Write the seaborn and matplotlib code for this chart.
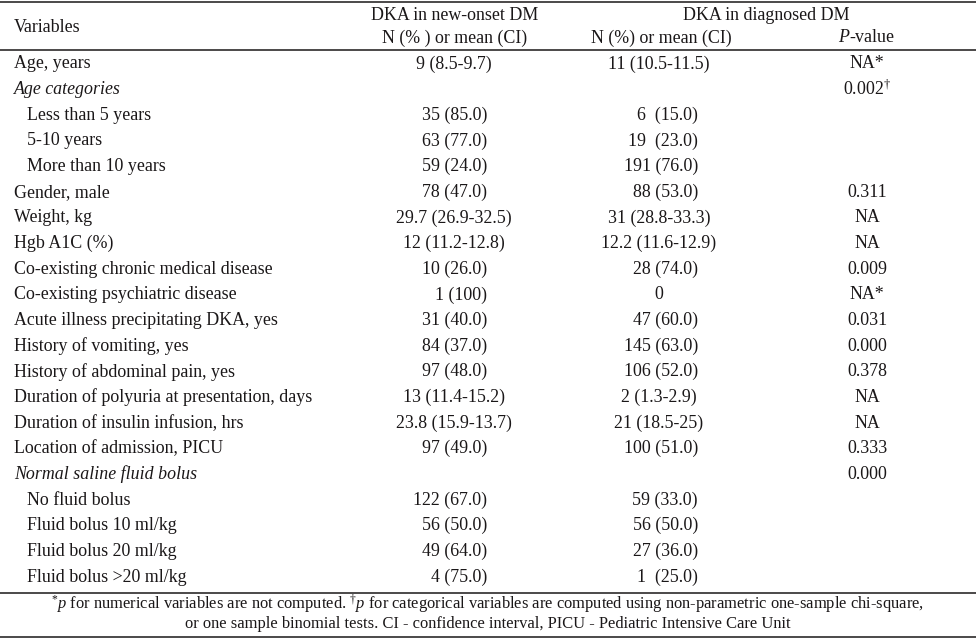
import matplotlib
matplotlib.use("Agg")
import matplotlib.pyplot as plt
import seaborn as sns
import pandas as pd

# ---------------- data ----------------
variables = [
    "Age, years", "Age categories", "Less than 5 years", "5-10 years",
    "More than 10 years", "Gender, male", "Weight, kg", "Hgb A1C (%)",
    "Co-existing chronic medical disease", "Co-existing psychiatric disease",
    "Acute illness precipitating DKA, yes", "History of vomiting, yes",
    "History of abdominal pain, yes", "Duration of polyuria at presentation, days",
    "Duration of insulin infusion, hrs", "Location of admission, PICU",
    "Normal saline fluid bolus", "No fluid bolus", "Fluid bolus 10 ml/kg",
    "Fluid bolus 20 ml/kg", "Fluid bolus >20 ml/kg",
]
new_onset = [
    "9 (8.5-9.7)", "", "35 (85.0)", "63 (77.0)", "59 (24.0)", "78 (47.0)",
    "29.7 (26.9-32.5)", "12 (11.2-12.8)", "10 (26.0)", "1 (100)", "31 (40.0)",
    "84 (37.0)", "97 (48.0)", "13 (11.4-15.2)", "23.8 (15.9-13.7)", "97 (49.0)",
    "", "122 (67.0)", "56 (50.0)", "49 (64.0)", "4 (75.0)",
]
diagnosed = [
    "11 (10.5-11.5)", "", "6  (15.0)", "19  (23.0)", "191 (76.0)", "88 (53.0)",
    "31 (28.8-33.3)", "12.2 (11.6-12.9)", "28 (74.0)", "0", "47 (60.0)",
    "145 (63.0)", "106 (52.0)", "2 (1.3-2.9)", "21 (18.5-25)", "100 (51.0)",
    "", "59 (33.0)", "56 (50.0)", "27 (36.0)", "1  (25.0)",
]
p_values = [
    "NA*", "0.002$^{†}$", "", "", "", "0.311", "NA", "NA", "0.009", "NA*",
    "0.031", "0.000", "0.378", "NA", "NA", "0.333", "0.000", "", "", "", "",
]
header_top = ["DKA in new-onset DM", "DKA in diagnosed DM"]
header_sub = ["Variables", "N (% ) or mean (CI)", "N (%) or mean (CI)", "$\\mathit{P}$-value"]
footnote = [
    "$^{*}\\mathit{p}$ for numerical variables are not computed. $^{†}\\mathit{p}$ for categorical "
    "variables are computed using non-parametric one-sample chi-square,",
    "or one sample binomial tests. CI - confidence interval, PICU - Pediatric Intensive Care Unit",
]

# style flags (not data)
italic_rows = {"Age categories", "Normal saline fluid bolus"}
sub_rows = {"Less than 5 years", "5-10 years", "More than 10 years", "No fluid bolus",
            "Fluid bolus 10 ml/kg", "Fluid bolus 20 ml/kg", "Fluid bolus >20 ml/kg"}

df = pd.DataFrame({"variable": variables, "new": new_onset,
                   "diag": diagnosed, "p": p_values})
df["row"] = range(len(df))

# ---------------- style ----------------
sns.set_theme(style="white")
plt.rcParams["font.family"] = ["Liberation Serif", "DejaVu Serif"]
plt.rcParams["mathtext.fontset"] = "custom"
plt.rcParams["mathtext.rm"] = "Liberation Serif"
plt.rcParams["mathtext.it"] = "Liberation Serif:italic"
plt.rcParams["mathtext.bf"] = "Liberation Serif:bold"

W, H = 976, 639
fig = plt.figure(figsize=(W / 100, H / 100), dpi=100)
ax = fig.add_axes([0, 0, 1, 1])
ax.set_xlim(0, W)
ax.set_ylim(H, 0)
ax.axis("off")

FS = 12.9
FN = 11.9
TXT = "#1a1718"
y0, dy = 64, 25.65
x_var, x_sub = 14, 27
c1_center, c1_right = 454, 487
c2_center, c2_right = 659, 698
p_center = 867


def value_align(s, center, right):
    if "-" in s or "(" not in s:
        return center, "center"
    return right, "right"


# header
ax.text(x_var, 27, header_sub[0], fontsize=FS, ha="left", va="center", color=TXT)
ax.text(455, 16, header_top[0], fontsize=FS, ha="center", va="center", color=TXT)
ax.text(455, 38, header_sub[1], fontsize=FS, ha="center", va="center", color=TXT)
ax.text(766, 16, header_top[1], fontsize=FS, ha="center", va="center", color=TXT)
ax.text(661, 38, header_sub[2], fontsize=FS, ha="center", va="center", color=TXT)
ax.text(p_center, 38, header_sub[3], fontsize=FS, ha="center", va="center", color=TXT)

# body
for _, r in df.iterrows():
    y = y0 + r["row"] * dy
    name = r["variable"]
    ax.text(x_sub if name in sub_rows else x_var, y, name, fontsize=FS,
            ha="left", va="center", color=TXT,
            style="italic" if name in italic_rows else "normal")
    if r["new"]:
        x, ha = value_align(r["new"], c1_center, c1_right)
        ax.text(x, y, r["new"], fontsize=FS, ha=ha, va="center", color=TXT)
    if r["diag"]:
        x, ha = value_align(r["diag"], c2_center, c2_right)
        ax.text(x, y, r["diag"], fontsize=FS, ha=ha, va="center", color=TXT)
    if r["p"]:
        ax.text(p_center, y, r["p"], fontsize=FS, ha="center", va="center", color=TXT)

# rules
for yl in (1.5, 50, 593, 637):
    ax.plot([0, W], [yl, yl], color=TXT, lw=1.1, solid_capstyle="butt")

# footnote
ax.text(W / 2, 604.5, footnote[0], fontsize=FN, ha="center", va="center", color=TXT)
ax.text(W / 2, 624, footnote[1], fontsize=FN, ha="center", va="center", color=TXT)

fig.savefig("out.png", dpi=100, facecolor="white")
